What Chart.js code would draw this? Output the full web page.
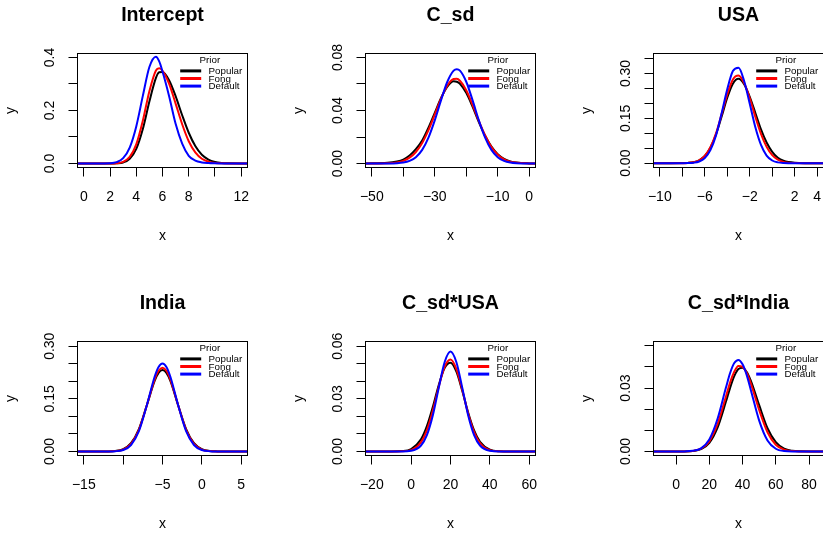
<!DOCTYPE html>
<html><head><meta charset="utf-8">
<script src="https://cdn.jsdelivr.net/npm/chart.js@4.4.1/dist/chart.umd.min.js"></script>
<style>
html,body{margin:0;padding:0;background:#fff;overflow:hidden;width:823px;height:534px;position:relative;}
canvas{position:absolute;}
</style></head><body>
<canvas id="p0" width="288" height="267" style="left:0px;top:0px"></canvas>
<canvas id="p1" width="288" height="267" style="left:288px;top:0px"></canvas>
<canvas id="p2" width="288" height="267" style="left:576px;top:0px"></canvas>
<canvas id="p3" width="288" height="267" style="left:0px;top:288px"></canvas>
<canvas id="p4" width="288" height="267" style="left:288px;top:288px"></canvas>
<canvas id="p5" width="288" height="267" style="left:576px;top:288px"></canvas>
<script>
// ---------- data ----------
const priorNames = ['Popular', 'Fong', 'Default'];
const panelTitles = ['Intercept', 'C_sd', 'USA', 'India', 'C_sd*USA', 'C_sd*India'];

// Intercept
const interceptX       = [-0.48, 1, 2, 2.5, 3, 3.5, 4, 4.5, 5, 5.5, 5.75, 6, 6.5, 7, 7.5, 8, 8.5, 9, 9.5, 10, 10.5, 11, 12.48];
const interceptPopular = [0, 0, 0.0001, 0.001, 0.004, 0.018, 0.055, 0.130, 0.234, 0.323, 0.344, 0.345, 0.314, 0.254, 0.182, 0.116, 0.066, 0.033, 0.015, 0.006, 0.002, 0.0006, 0];
const interceptFong    = [0, 0, 0.0002, 0.001, 0.006, 0.025, 0.072, 0.161, 0.273, 0.351, 0.359, 0.350, 0.301, 0.226, 0.148, 0.084, 0.042, 0.018, 0.007, 0.002, 0.0006, 0, 0];
const interceptDefault = [0, 0, 0.001, 0.005, 0.02, 0.06, 0.14, 0.255, 0.364, 0.403, 0.385, 0.347, 0.255, 0.15, 0.075, 0.029, 0.011, 0.004, 0.0015, 0.0005, 0, 0, 0];
const interceptXTicks  = [0, 2, 4, 6, 8, 10, 12];
const interceptXLabels = ['0', '2', '4', '6', '8', '', '12'];
const interceptYTicks  = [0, 0.1, 0.2, 0.3, 0.4];
const interceptYLabels = ['0.0', '', '0.2', '', '0.4'];

// C_sd
const csdX       = [-52, -45, -42, -40, -38, -36, -34, -32, -30, -28, -26, -24, -23, -22, -20, -18, -16, -14, -12, -10, -8, -6, -4, 0, 2];
const csdPopular = [0.0001, 0.0005, 0.0015, 0.003, 0.006, 0.0108, 0.0173, 0.027, 0.0382, 0.0494, 0.058, 0.062, 0.0617, 0.0602, 0.0533, 0.0429, 0.0313, 0.0209, 0.0127, 0.007, 0.0035, 0.0016, 0.0007, 0.0001, 0];
const csdFong    = [0, 0.0002, 0.0008, 0.002, 0.0044, 0.0087, 0.0155, 0.0252, 0.0369, 0.049, 0.0588, 0.0637, 0.0639, 0.0624, 0.0553, 0.0443, 0.0321, 0.0211, 0.0124, 0.0067, 0.0032, 0.0014, 0.0006, 0.0001, 0];
const csdDefault = [0, 0.00003, 0.0002, 0.0007, 0.002, 0.0048, 0.0103, 0.0196, 0.0326, 0.0478, 0.0617, 0.0701, 0.0712, 0.0701, 0.0617, 0.0478, 0.0326, 0.0196, 0.0103, 0.0048, 0.002, 0.0007, 0.0002, 0, 0];
const csdXTicks  = [-50, -40, -30, -20, -10, 0];
const csdXLabels = ['\u221250', '', '\u221230', '', '\u221210', '0'];
const csdYTicks  = [0, 0.02, 0.04, 0.06, 0.08];
const csdYLabels = ['0.00', '', '0.04', '', '0.08'];

// USA
const usaX       = [-10.56, -9, -8, -7.5, -7, -6.5, -6, -5.5, -5, -4.5, -4, -3.5, -3, -2.5, -2, -1.5, -1, -0.5, 0, 0.5, 1, 2, 3, 4.56];
const usaPopular = [0, 0, 0.0003, 0.001, 0.0034, 0.0098, 0.024, 0.052, 0.096, 0.156, 0.219, 0.266, 0.282, 0.264, 0.222, 0.168, 0.113, 0.069, 0.038, 0.018, 0.008, 0.0012, 0.0001, 0];
const usaFong    = [0, 0, 0.0002, 0.001, 0.0033, 0.0096, 0.0243, 0.0534, 0.1, 0.164, 0.23, 0.28, 0.293, 0.268, 0.217, 0.155, 0.098, 0.055, 0.027, 0.0118, 0.0045, 0.0005, 0, 0];
const usaDefault = [0, 0, 0.0001, 0.0004, 0.0016, 0.0057, 0.0173, 0.044, 0.093, 0.167, 0.247, 0.308, 0.319, 0.275, 0.199, 0.12, 0.061, 0.0255, 0.009, 0.0027, 0.0007, 0, 0, 0];
const usaXTicks  = [-10, -8, -6, -4, -2, 0, 2, 4];
const usaXLabels = ['\u221210', '', '\u22126', '', '\u22122', '', '2', '4'];
const usaYTicks  = [0, 0.05, 0.10, 0.15, 0.20, 0.25, 0.30, 0.35];
const usaYLabels = ['0.00', '', '', '0.15', '', '', '0.30', ''];

// India
const indiaX       = [-15.8, -14, -12, -11, -10, -9, -8, -7, -6, -5.5, -5, -4.5, -4, -3, -2, -1, 0, 1, 2, 3, 5.8];
const indiaPopular = [0, 0, 0.0002, 0.0013, 0.0065, 0.0235, 0.064, 0.131, 0.201, 0.224, 0.232, 0.224, 0.201, 0.131, 0.064, 0.0235, 0.0065, 0.0013, 0.0002, 0, 0];
const indiaFong    = [0, 0, 0.0001, 0.001, 0.0055, 0.0213, 0.0614, 0.131, 0.205, 0.230, 0.239, 0.230, 0.205, 0.131, 0.0614, 0.0213, 0.0055, 0.001, 0.0001, 0, 0];
const indiaDefault = [0, 0, 0.0001, 0.0007, 0.0042, 0.0184, 0.0577, 0.131, 0.213, 0.241, 0.251, 0.241, 0.213, 0.131, 0.0577, 0.0184, 0.0042, 0.0007, 0.0001, 0, 0];
const indiaXTicks  = [-15, -10, -5, 0, 5];
const indiaXLabels = ['\u221215', '', '\u22125', '0', '5'];
const indiaYTicks  = [0, 0.05, 0.10, 0.15, 0.20, 0.25, 0.30];
const indiaYLabels = ['0.00', '', '', '0.15', '', '', '0.30'];

// C_sd*USA
const csdUsaX       = [-23.2, -10, -5, 0, 5, 8, 11, 14, 17, 20, 23, 26, 29, 32, 35, 40, 45, 50, 63.2];
const csdUsaPopular = [0, 0, 0.0002, 0.0014, 0.0069, 0.0144, 0.0253, 0.0378, 0.0476, 0.0506, 0.0455, 0.0345, 0.0221, 0.012, 0.0055, 0.001, 0.0001, 0, 0];
const csdUsaFong    = [0, 0, 0.0001, 0.0008, 0.0053, 0.0122, 0.0232, 0.0368, 0.0483, 0.0524, 0.047, 0.035, 0.0215, 0.011, 0.0047, 0.0007, 0.0001, 0, 0];
const csdUsaDefault = [0, 0, 0, 0.0004, 0.0034, 0.0093, 0.0205, 0.0362, 0.0509, 0.057, 0.0509, 0.0362, 0.0205, 0.0093, 0.0034, 0.0004, 0, 0, 0];
const csdUsaXTicks  = [-20, 0, 20, 40, 60];
const csdUsaXLabels = ['\u221220', '0', '20', '40', '60'];
const csdUsaYTicks  = [0, 0.01, 0.02, 0.03, 0.04, 0.05, 0.06];
const csdUsaYLabels = ['0.00', '', '', '0.03', '', '', '0.06'];

// C_sd*India
const csdIndiaX       = [-13.6, 0, 5, 10, 15, 20, 25, 30, 32.5, 35, 37.5, 40, 42.5, 45, 50, 55, 60, 65, 70, 75, 88.7];
const csdIndiaPopular = [0, 0, 0.00003, 0.0002, 0.0011, 0.0041, 0.0114, 0.0236, 0.0301, 0.0356, 0.039, 0.0396, 0.0376, 0.0334, 0.0219, 0.011, 0.0044, 0.0013, 0.0003, 0.0001, 0];
const csdIndiaFong    = [0, 0, 0.00004, 0.00025, 0.0013, 0.0048, 0.0131, 0.026, 0.0326, 0.0377, 0.0404, 0.040, 0.0371, 0.0321, 0.0196, 0.0091, 0.0032, 0.0009, 0.0002, 0, 0];
const csdIndiaDefault = [0, 0, 0.00004, 0.0003, 0.0015, 0.0057, 0.0156, 0.0302, 0.0371, 0.0418, 0.0433, 0.0412, 0.0361, 0.029, 0.0146, 0.0052, 0.0013, 0.0002, 0, 0, 0];
const csdIndiaXTicks  = [0, 20, 40, 60, 80];
const csdIndiaXLabels = ['0', '20', '40', '60', '80'];
const csdIndiaYTicks  = [0, 0.01, 0.02, 0.03, 0.04, 0.05];
const csdIndiaYLabels = ['0.00', '', '', '0.03', '', ''];

// ---------- panels ----------
const panels = [
  {x: interceptX, s: [interceptPopular, interceptFong, interceptDefault], xr: [-0.48, 12.48], yr: [-0.0151, 0.415],
   xt: interceptXTicks, xl: interceptXLabels, yt: interceptYTicks, yl: interceptYLabels},
  {x: csdX, s: [csdPopular, csdFong, csdDefault], xr: [-52, 2], yr: [-0.003, 0.083],
   xt: csdXTicks, xl: csdXLabels, yt: csdYTicks, yl: csdYLabels},
  {x: usaX, s: [usaPopular, usaFong, usaDefault], xr: [-10.56, 4.56], yr: [-0.0144, 0.3668],
   xt: usaXTicks, xl: usaXLabels, yt: usaYTicks, yl: usaYLabels},
  {x: indiaX, s: [indiaPopular, indiaFong, indiaDefault], xr: [-15.8, 5.8], yr: [-0.0115, 0.3135],
   xt: indiaXTicks, xl: indiaXLabels, yt: indiaYTicks, yl: indiaYLabels},
  {x: csdUsaX, s: [csdUsaPopular, csdUsaFong, csdUsaDefault], xr: [-23.2, 63.2], yr: [-0.0023, 0.0627],
   xt: csdUsaXTicks, xl: csdUsaXLabels, yt: csdUsaYTicks, yl: csdUsaYLabels},
  {x: csdIndiaX, s: [csdIndiaPopular, csdIndiaFong, csdIndiaDefault], xr: [-13.6, 88.7], yr: [-0.0019, 0.052],
   xt: csdIndiaXTicks, xl: csdIndiaXLabels, yt: csdIndiaYTicks, yl: csdIndiaYLabels}
];

const seriesColors = ['#000000', '#FF0000', '#0000FF'];
const FONT = "'Liberation Sans', Arial, Helvetica, sans-serif";
Chart.defaults.font.family = FONT;
Chart.defaults.color = '#000';

const rPlugin = {
  id: 'rstyle',
  afterDraw(chart) {
    const {ctx, chartArea: ca} = chart;
    const p = chart.options.plugins.rstyle;
    ctx.save();
    ctx.strokeStyle = '#000';
    ctx.lineWidth = 1;
    ctx.strokeRect(ca.left, ca.top, ca.right - ca.left, ca.bottom - ca.top);
    // rotated y tick labels (R style, las = 0)
    const ys = chart.scales.y;
    ctx.fillStyle = '#000';
    ctx.font = '14px ' + FONT;
    ctx.textAlign = 'center';
    ctx.textBaseline = 'alphabetic';
    p.yt.forEach((v, i) => {
      const lab = p.yl[i];
      if (!lab) return;
      const py = ys.getPixelForValue(v);
      ctx.save();
      ctx.translate(ca.left - 23.4, py);
      ctx.rotate(-Math.PI / 2);
      ctx.fillText(lab, 0, 0);
      ctx.restore();
    });
    // legend (no box), title "Prior"
    ctx.font = '9.8px ' + FONT;
    ctx.textAlign = 'center';
    ctx.fillText('Prior', ca.left + 132.4, ca.top + 9.7);
    ctx.textAlign = 'left';
    ctx.textBaseline = 'middle';
    chart.data.datasets.forEach((ds, i) => {
      const y = ca.top + 17.4 + 7.6 * i;
      ctx.strokeStyle = ds.borderColor;
      ctx.lineWidth = 3;
      ctx.beginPath();
      ctx.moveTo(ca.left + 102.7, y);
      ctx.lineTo(ca.left + 123.7, y);
      ctx.stroke();
      ctx.fillStyle = '#000';
      ctx.fillText(ds.label, ca.left + 131, y + 0.4);
    });
    ctx.restore();
  }
};

panels.forEach((pn, k) => {
  const datasets = pn.s.map((ys, j) => ({
    label: priorNames[j],
    data: pn.x.map((xv, i) => ({x: xv, y: ys[i]})),
    borderColor: seriesColors[j],
    borderWidth: 2,
    pointRadius: 0,
    fill: false,
    cubicInterpolationMode: 'monotone',
    order: 2 - j
  }));
  new Chart(document.getElementById('p' + k), {
    type: 'line',
    data: {datasets},
    plugins: [rPlugin],
    options: {
      responsive: false,
      animation: false,
      events: [],
      layout: {padding: {left: 0, top: 0, right: 40.5, bottom: 0}},
      plugins: {
        legend: {display: false},
        tooltip: {enabled: false},
        title: {
          display: true, text: panelTitles[k], fullSize: false, color: '#000',
          font: {size: 19.6, weight: 'bold', family: FONT},
          padding: {top: 4.1, bottom: 25.88}
        },
        rstyle: {yt: pn.yt, yl: pn.yl}
      },
      scales: {
        x: {
          type: 'linear', min: pn.xr[0], max: pn.xr[1],
          afterBuildTicks: (s) => { s.ticks = pn.xt.map(v => ({value: v})); },
          afterFit: (s) => { s.height = 99.5; },
          ticks: {autoSkip: false, maxRotation: 0, minRotation: 0, padding: 11.75,
                  font: {size: 14}, color: '#000',
                  callback: (v, i) => pn.xl[i]},
          grid: {display: true, drawOnChartArea: false, drawTicks: true, tickLength: 9, color: '#000', lineWidth: 1},
          border: {display: false},
          title: {display: true, text: 'x', font: {size: 14}, color: '#000', padding: {top: 0, bottom: 22.75}}
        },
        y: {
          type: 'linear', min: pn.yr[0], max: pn.yr[1],
          afterBuildTicks: (s) => { s.ticks = pn.yt.map(v => ({value: v})); },
          afterFit: (s) => { s.width = 77.5; },
          ticks: {display: false},
          grid: {display: true, drawOnChartArea: false, drawTicks: true, tickLength: 9, color: '#000', lineWidth: 1},
          border: {display: false},
          title: {display: true, text: 'y', font: {size: 14}, color: '#000', padding: {top: 2.35, bottom: 0}}
        }
      }
    }
  });
});
</script>
</body></html>
